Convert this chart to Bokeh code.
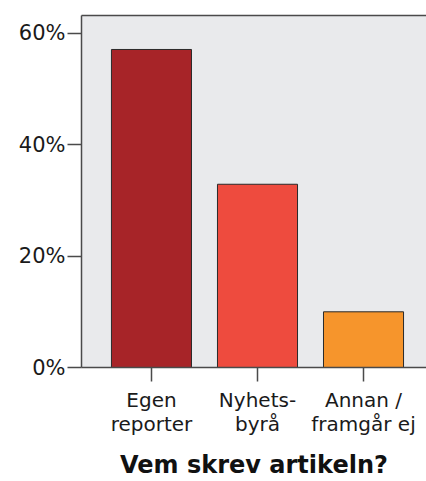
from bokeh.plotting import figure
from bokeh.models import Range1d, FixedTicker, PrintfTickFormatter, LinearAxis
from bokeh.embed import file_html
from bokeh.resources import INLINE

categories = ["Egen\nreporter", "Nyhets-\nbyrå", "Annan /\nframgår ej"]
percentages = [57.1, 32.9, 10.0]
colors = ["#a72428", "#ee4b3e", "#f6952c"]
y_ticks = [0, 20, 40, 60]
x_title = "Vem skrev artikeln?"

positions = [i + 1 for i in range(len(categories))]

p = figure(width=426, height=481, output_backend="svg", toolbar_location=None,
           x_range=Range1d(0.34, 3.594), y_range=Range1d(0, 63.2),
           min_border_left=81, min_border_right=0, min_border_top=15, min_border_bottom=113)

p.vbar(x=positions, top=percentages, width=0.755, fill_color=colors,
       line_color="#2a2a2a", line_width=1)

p.background_fill_color = "#e9eaec"
p.border_fill_color = "white"
p.outline_line_color = None
p.xgrid.visible = False
p.ygrid.visible = False

font = "DejaVu Sans"
axis_color = "#4a4a4a"

top_axis = LinearAxis(ticker=FixedTicker(ticks=[]), axis_line_color=axis_color,
                      axis_line_width=1.5, major_tick_out=0, major_tick_in=0,
                      minor_tick_out=0, minor_tick_in=0,
                      major_label_text_font_size="0px", major_label_standoff=0)
p.add_layout(top_axis, "above")

p.yaxis.ticker = FixedTicker(ticks=y_ticks)
p.yaxis.formatter = PrintfTickFormatter(format="%d%%")
p.yaxis.major_tick_out = 14
p.yaxis.major_tick_in = 0
p.yaxis.minor_tick_out = 0
p.yaxis.minor_tick_in = 0
p.yaxis.major_label_standoff = 2
p.yaxis.major_label_text_font = font
p.yaxis.major_label_text_font_size = "21px"
p.yaxis.major_label_text_color = "#1a1a1a"
p.yaxis.axis_line_color = axis_color
p.yaxis.axis_line_width = 1.5
p.yaxis.major_tick_line_color = axis_color
p.yaxis.major_tick_line_width = 1.5

xa = p.below[0]
xa.ticker = FixedTicker(ticks=positions)
xa.major_label_overrides = {pos: lab for pos, lab in zip(positions, categories)}
xa.major_tick_out = 14
xa.major_tick_in = 0
xa.minor_tick_out = 0
xa.minor_tick_in = 0
xa.major_label_standoff = 6
xa.major_label_text_font = font
xa.major_label_text_font_size = "20px"
xa.major_label_text_color = "#1a1a1a"
xa.major_label_text_line_height = 1.0
xa.axis_line_color = axis_color
xa.axis_line_width = 1.5
xa.major_tick_line_color = axis_color
xa.major_tick_line_width = 1.5
xa.axis_label = x_title
xa.axis_label_text_font = font
xa.axis_label_text_font_style = "bold"
xa.axis_label_text_font_size = "24px"
xa.axis_label_text_color = "#111111"
xa.axis_label_standoff = 12

open("out.html", "w").write(file_html(p, INLINE))
